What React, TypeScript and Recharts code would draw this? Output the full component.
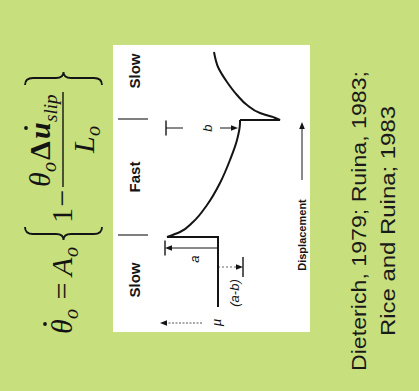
import React from 'react';
import { LineChart, Line, XAxis, YAxis, ReferenceLine, ReferenceDot } from 'recharts';

// Velocity-step friction record, split into its four parts:
// slow steady state + step up, decay after the fast step, step down, recovery after the slow step.
const slowDisplacement = [0, 7.0, 7.0];
const slowFriction = [0.6, 0.6, 0.651];

const decayDisplacement = [7.0, 7.5, 8.5, 10.2, 12.4, 14.7, 16.7, 18.4, 18.7];
const decayFriction = [0.651, 0.638, 0.625, 0.611, 0.598, 0.588, 0.581, 0.578, 0.578];

const dropDisplacement = [18.7, 18.7, 19.0];
const dropFriction = [0.578, 0.538, 0.545];

const recoveryDisplacement = [19.0, 19.4, 20.2, 21.2, 22.5, 24.0, 25.5];
const recoveryFriction = [0.545, 0.558, 0.571, 0.581, 0.591, 0.6, 0.604];

// Loading-rate regimes and the displacements where the velocity steps occur
const regimes = ['Slow', 'Fast', 'Slow'];
const regimeCentres = [2.7, 13.0, 23.6];
const stepMarks = [7.2, 18.8];

// Citation lines
const citation = ['Dieterich, 1979; Ruina, 1983;', 'Rice and Ruina; 1983'];
const citationLengths = [300, 230];

const GREEN = '#c7df7d';
const INK = '#141414';
const SANS = '"Liberation Sans", Arial, sans-serif';
const SERIF = '"Liberation Serif", "Times New Roman", serif';

// Slide is laid out in a 391 x 419 frame and turned a quarter-turn anticlockwise
const FRAME_W = 391;
const FRAME_H = 419;

const X_DOMAIN: [number, number] = [-8.4, 30.7];
const Y_DOMAIN: [number, number] = [0.399, 0.818];

const mu0 = slowFriction[0];
const muPeak = slowFriction[2];
const muSteady = decayFriction[decayFriction.length - 1];

const toRows = (xs: number[], ys: number[]) => xs.map((d, i) => ({ d, mu: ys[i] }));

type ArrowOpts = { head?: boolean; tee?: number; dash?: string; color?: string; width?: number };

const arrowShape = (o: ArrowOpts) => (p: any) => {
  const { x1, y1, x2, y2 } = p;
  const dx = x2 - x1;
  const dy = y2 - y1;
  const len = Math.hypot(dx, dy) || 1;
  const ux = dx / len;
  const uy = dy / len;
  const nx = -uy;
  const ny = ux;
  const color = o.color || INK;
  const hl = 7;
  const hw = 2.8;
  const endX = o.head ? x2 - ux * hl * 0.7 : x2;
  const endY = o.head ? y2 - uy * hl * 0.7 : y2;
  return (
    <g>
      <line x1={x1} y1={y1} x2={endX} y2={endY} stroke={color} strokeWidth={o.width || 1} strokeDasharray={o.dash} />
      {o.head && (
        <polygon
          points={`${x2},${y2} ${x2 - ux * hl + nx * hw},${y2 - uy * hl + ny * hw} ${x2 - ux * hl - nx * hw},${y2 - uy * hl - ny * hw}`}
          fill={INK}
        />
      )}
      {o.tee && (
        <line x1={x2 + nx * o.tee} y1={y2 + ny * o.tee} x2={x2 - nx * o.tee} y2={y2 - ny * o.tee} stroke={INK} strokeWidth={1.4} />
      )}
    </g>
  );
};

const textShape = (text: string, style: React.SVGProps<SVGTextElement>) => (p: any) => (
  <text x={p.cx} y={p.cy} textAnchor="middle" dominantBaseline="central" fill={INK} {...style}>
    {text}
  </text>
);

function Formula() {
  return (
    <g fontFamily={SERIF} fill={INK}>
      {/* left-hand side */}
      <text x={57} y={72} fontSize={30} fontStyle="italic">θ</text>
      <circle cx={67} cy={45} r={1.9} />
      <text x={72} y={78} fontSize={20} fontStyle="italic">o</text>
      <text x={100} y={72} fontSize={30} textAnchor="middle">=</text>
      <text x={115} y={72} fontSize={30} fontStyle="italic">A</text>
      <text x={134} y={78} fontSize={20} fontStyle="italic">o</text>
      <path d="M164,25 Q157,25 157,33 L157,56 Q157,63.5 151,63.5 Q157,63.5 157,71 L157,94 Q157,102 164,102" fill="none" stroke={INK} strokeWidth={1.8} />
      <text x={168} y={72} fontSize={30}>1</text>
      <text x={193} y={72} fontSize={30} textAnchor="middle">−</text>
      {/* fraction */}
      <line x1={204} x2={299} y1={63} y2={63} stroke={INK} strokeWidth={1.4} />
      <text x={204} y={50} fontSize={30} fontStyle="italic">θ</text>
      <text x={219} y={56} fontSize={20} fontStyle="italic">o</text>
      <text x={231} y={50} fontSize={30} fontWeight="bold">Δ</text>
      <text x={252} y={50} fontSize={30} fontWeight="bold" fontStyle="italic">u</text>
      <circle cx={263} cy={26} r={1.9} />
      <text x={269} y={57} fontSize={19} fontStyle="italic">slip</text>
      <text x={238} y={94} fontSize={30} fontStyle="italic">L</text>
      <text x={255} y={100} fontSize={20} fontStyle="italic">o</text>
      <path d="M306,25 Q313,25 313,33 L313,56 Q313,63.5 319,63.5 Q313,63.5 313,71 L313,94 Q313,102 306,102" fill="none" stroke={INK} strokeWidth={1.8} />
    </g>
  );
}

export default function App() {
  const labelSans = { fontFamily: SANS, fontSize: 15, fontWeight: 'bold' as const };
  const italic = { fontFamily: SANS, fontSize: 13, fontStyle: 'italic' as const };
  const curve = { dataKey: 'mu', stroke: INK, strokeWidth: 2, dot: false, activeDot: false, isAnimationActive: false };

  return (
    <div style={{ position: 'fixed', left: 0, top: 0, width: 419, height: 391, background: GREEN, overflow: 'hidden' }}>
      <div
        style={{
          position: 'absolute',
          left: 0,
          top: 0,
          width: FRAME_W,
          height: FRAME_H,
          transformOrigin: '0 0',
          transform: `translateY(${FRAME_W}px) rotate(-90deg)`,
        }}
      >
        <div style={{ position: 'absolute', left: 59, top: 113, width: 287, height: 197, background: '#ffffff' }} />
        <svg width={FRAME_W} height={FRAME_H} style={{ position: 'absolute', left: 0, top: 0 }}>
          <Formula />
          {citation.map((line, i) => (
            <text
              key={line}
              x={170}
              y={366 + i * 29}
              textAnchor="middle"
              fontFamily={SANS}
              fontSize={21}
              textLength={citationLengths[i]}
              lengthAdjust="spacingAndGlyphs"
              fill="#1a1a1a"
            >
              {line}
            </text>
          ))}
        </svg>
        <div style={{ position: 'absolute', left: 0, top: 0 }}>
          <LineChart width={FRAME_W} height={FRAME_H} margin={{ top: 0, right: 0, bottom: 0, left: 0 }}>
            <XAxis dataKey="d" type="number" domain={X_DOMAIN} allowDataOverflow hide />
            <YAxis type="number" domain={Y_DOMAIN} allowDataOverflow hide width={0} />

            {/* regime boundaries and labels */}
            {stepMarks.map((x) => (
              <ReferenceLine
                key={`step-${x}`}
                segment={[{ x, y: 0.7 }, { x, y: 0.67 }]}
                shape={arrowShape({ color: '#555', width: 1.5 })}
              />
            ))}
            {regimes.map((r, i) => (
              <ReferenceDot key={`reg-${i}`} x={regimeCentres[i]} y={0.684} shape={textShape(r, labelSans)} />
            ))}

            {/* direct effect a */}
            <ReferenceLine segment={[{ x: 5.9, y: mu0 }, { x: 5.9, y: muPeak + 0.002 }]} shape={arrowShape({ head: true, tee: 7.5 })} />
            <ReferenceDot x={4.8} y={0.624} shape={textShape('a', italic)} />

            {/* steady-state change a-b */}
            <ReferenceLine
              segment={[{ x: 4.0, y: mu0 }, { x: 4.0, y: muSteady - 0.003 }]}
              shape={arrowShape({ head: true, tee: 10, dash: '2 2', color: '#666' })}
            />
            <ReferenceDot x={1.4} y={0.584} shape={textShape('(a-b)', italic)} />

            {/* evolution effect b */}
            <ReferenceLine segment={[{ x: 17.9, y: 0.635 }, { x: 17.9, y: muPeak + 0.001 }]} shape={arrowShape({ tee: 7.5 })} />
            <ReferenceDot x={17.9} y={0.611} shape={textShape('b', italic)} />
            <ReferenceLine segment={[{ x: 17.9, y: 0.598 }, { x: 17.9, y: muSteady + 0.002 }]} shape={arrowShape({ head: true })} />

            {/* friction axis arrow */}
            <ReferenceLine segment={[{ x: -1.6, y: 0.616 }, { x: -1.6, y: 0.658 }]} shape={arrowShape({ head: true, dash: '2 1.5', color: '#555' })} />
            <ReferenceDot x={-1.55} y={0.6025} shape={textShape('μ', { fontFamily: SERIF, fontSize: 15, fontStyle: 'italic' })} />

            {/* displacement axis arrow */}
            <ReferenceLine segment={[{ x: 12.7, y: 0.516 }, { x: 18.5, y: 0.516 }]} shape={arrowShape({ head: true })} />
            <ReferenceDot x={7.2} y={0.516} shape={textShape('Displacement', { fontFamily: SANS, fontSize: 11, fontWeight: 'bold' })} />

            <Line {...curve} type="linear" data={toRows(slowDisplacement, slowFriction)} />
            <Line {...curve} type="monotoneX" data={toRows(decayDisplacement, decayFriction)} />
            <Line {...curve} type="linear" data={toRows(dropDisplacement, dropFriction)} />
            <Line {...curve} type="monotoneX" data={toRows(recoveryDisplacement, recoveryFriction)} />
          </LineChart>
        </div>
      </div>
    </div>
  );
}
